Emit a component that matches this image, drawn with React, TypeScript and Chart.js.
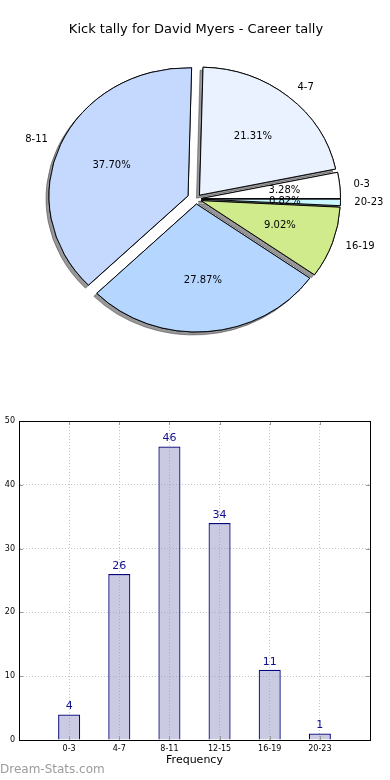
import React, { useEffect, useRef } from 'react';
import { Chart, registerables } from 'chart.js';

Chart.register(...registerables);

// ---- data ----
const categories: string[] = ['0-3', '4-7', '8-11', '12-15', '16-19', '20-23'];
const kicks: number[] = [4, 26, 46, 34, 11, 1];
const yTicks: number[] = [0, 10, 20, 30, 40, 50];
const chartTitle = 'Kick tally for David Myers - Career tally';
const xTitle = 'Frequency';

// ---- styles ----
const pieColors: string[] = ['#ffffff', '#eaf1ff', '#c5d9ff', '#b5d6ff', '#d0eb8c', '#c9f6ff'];
const explodePx: number[] = [5, 5, 8, 5, 5, 5];
const FONT = '"DejaVu Sans", sans-serif';
const SX = 1.0865; // horizontal stretch (matplotlib pie without equal aspect)

const revCats = [...categories].reverse();
const revKicks = [...kicks].reverse();
const revColors = [...pieColors].reverse();
const revExplode = [...explodePx].reverse();
const total = kicks.reduce((a, b) => a + b, 0);

const piePlugin = {
  id: 'pieDraw',
  beforeDatasetsDraw(chart: any) {
    const ctx = chart.ctx;
    const arcs = chart.getDatasetMeta(0).data;
    if (!arcs.length) return false;
    const cx = arcs[0].x;
    const cy = arcs[0].y;
    ctx.save();
    ctx.translate(cx, cy);
    ctx.scale(SX, 1);
    ctx.translate(-cx, -cy);
    for (let pass = 0; pass < 2; pass++) {
      arcs.forEach((arc: any, i: number) => {
        const mid = (arc.startAngle + arc.endAngle) / 2;
        ctx.save();
        ctx.translate(Math.cos(mid) * revExplode[i], Math.sin(mid) * revExplode[i]);
        if (pass === 0) {
          ctx.shadowColor = 'rgba(50,50,55,0.5)';
          ctx.shadowOffsetX = -3;
          ctx.shadowOffsetY = 3;
          ctx.shadowBlur = 0;
        }
        arc.draw(ctx);
        ctx.restore();
      });
    }
    ctx.restore();
    return false;
  },
  afterDraw(chart: any) {
    const ctx = chart.ctx;
    const arcs = chart.getDatasetMeta(0).data;
    ctx.save();
    ctx.fillStyle = '#000';
    ctx.font = `10px ${FONT}`;
    ctx.textBaseline = 'middle';
    arcs.forEach((arc: any, i: number) => {
      const mid = (arc.startAngle + arc.endAngle) / 2;
      const R = arc.outerRadius;
      const ex = arc.x + Math.cos(mid) * revExplode[i];
      const ey = arc.y + Math.sin(mid) * revExplode[i];
      const lx = arc.x + (ex + Math.cos(mid) * R * 1.1 - arc.x) * SX;
      const ly = ey + Math.sin(mid) * R * 1.1;
      ctx.textAlign = Math.cos(mid) >= 0 ? 'left' : 'right';
      ctx.fillText(revCats[i], lx, ly);
      const px = arc.x + (ex + Math.cos(mid) * R * 0.6 - arc.x) * SX;
      const py = ey + Math.sin(mid) * R * 0.6;
      ctx.textAlign = 'center';
      ctx.fillText(((revKicks[i] / total) * 100).toFixed(2) + '%', px, py);
    });
    ctx.restore();
  },
};

const barPlugin = {
  id: 'barExtras',
  afterDatasetsDraw(chart: any) {
    const ctx = chart.ctx;
    const { left, right, top, bottom } = chart.chartArea;
    const xs = chart.scales.x;
    const ys = chart.scales.y;
    ctx.save();
    // inward tick marks
    ctx.strokeStyle = '#9a9a9a';
    ctx.lineWidth = 1;
    ctx.beginPath();
    categories.forEach((_, i) => {
      const px = Math.round(xs.getPixelForValue(i)) + 0.5;
      ctx.moveTo(px, bottom);
      ctx.lineTo(px, bottom - 4);
      ctx.moveTo(px, top);
      ctx.lineTo(px, top + 4);
    });
    yTicks.forEach((v) => {
      const py = Math.round(ys.getPixelForValue(v)) + 0.5;
      ctx.moveTo(left, py);
      ctx.lineTo(left + 4, py);
      ctx.moveTo(right, py);
      ctx.lineTo(right - 4, py);
    });
    ctx.stroke();
    // frame
    ctx.strokeStyle = '#000';
    ctx.lineWidth = 1;
    ctx.strokeRect(Math.round(left) + 0.5, Math.round(top) + 0.5, Math.round(right - left), Math.round(bottom - top));
    // value labels
    ctx.fillStyle = '#10108c';
    ctx.font = `11px ${FONT}`;
    ctx.textAlign = 'center';
    ctx.textBaseline = 'middle';
    chart.getDatasetMeta(0).data.forEach((bar: any, i: number) => {
      ctx.fillText(String(kicks[i]), bar.x, bar.y - 8);
    });
    ctx.restore();
  },
};

export default function App() {
  const pieRef = useRef<HTMLCanvasElement>(null);
  const barRef = useRef<HTMLCanvasElement>(null);

  useEffect(() => {
    const pie = new Chart(pieRef.current as HTMLCanvasElement, {
      type: 'pie',
      data: {
        labels: revCats,
        datasets: [
          {
            data: revKicks,
            backgroundColor: revColors,
            borderColor: '#000',
            borderWidth: 0.9,
          },
        ],
      },
      options: {
        responsive: false,
        animation: false,
        events: [],
        devicePixelRatio: 1,
        rotation: 90,
        radius: 128,
        layout: { padding: { left: 2 } },
        plugins: {
          legend: { display: false },
          tooltip: { enabled: false },
          title: {
            display: true,
            text: chartTitle,
            color: '#000',
            font: { family: FONT, size: 13, weight: 'normal' },
            padding: { top: 22, bottom: 21.4 },
          },
        },
      } as any,
      plugins: [piePlugin],
    });

    const grid = { color: '#c2c2c2', lineWidth: 1, drawTicks: false, offset: false };
    const border = { color: '#000', width: 1, dash: [1, 2] };
    const bar = new Chart(barRef.current as HTMLCanvasElement, {
      type: 'bar',
      data: {
        datasets: [
          {
            data: kicks.map((v, i) => ({ x: i, y: v })),
            backgroundColor: 'rgba(150,150,200,0.5)',
            borderColor: '#06067e',
            borderWidth: 1.2,
            barPercentage: 0.44,
            categoryPercentage: 1,
          },
        ],
      },
      options: {
        responsive: false,
        animation: false,
        events: [],
        devicePixelRatio: 1,
        layout: { padding: { top: 21, right: 20, left: 0, bottom: 0 } },
        plugins: { legend: { display: false }, tooltip: { enabled: false } },
        scales: {
          x: {
            type: 'linear',
            min: -1,
            max: 6,
            offset: false,
            afterBuildTicks: (s: any) => {
              s.ticks = categories.map((_, i) => ({ value: i }));
            },
            afterFit: (s: any) => {
              s.height = 40;
            },
            ticks: {
              autoSkip: false,
              maxRotation: 0,
              padding: 4,
              color: '#000',
              font: { family: FONT, size: 8 },
              callback: (v: any) => categories[v] ?? '',
            },
            grid,
            border,
            title: {
              display: true,
              text: xTitle,
              color: '#000',
              font: { family: FONT, size: 11 },
              padding: { top: 0, bottom: 13 },
            },
          },
          y: {
            type: 'linear',
            min: 0,
            max: 50,
            afterBuildTicks: (s: any) => {
              s.ticks = yTicks.map((v) => ({ value: v }));
            },
            afterFit: (s: any) => {
              s.width = 19;
            },
            ticks: {
              padding: 4,
              color: '#000',
              font: { family: FONT, size: 8 },
            },
            grid,
            border,
          },
        },
      } as any,
      plugins: [barPlugin],
    });

    return () => {
      pie.destroy();
      bar.destroy();
    };
  }, []);

  return (
    <div style={{ position: 'absolute', top: 0, left: 0, width: 390, height: 780, background: '#fff' }}>
      <canvas ref={pieRef} width={390} height={339} style={{ position: 'absolute', top: 0, left: 0, display: 'block' }} />
      <canvas ref={barRef} width={390} height={380} style={{ position: 'absolute', top: 400, left: 0, display: 'block' }} />
      <div
        style={{
          position: 'absolute',
          left: 0,
          top: 762,
          fontFamily: FONT,
          fontSize: 12,
          lineHeight: '14px',
          color: '#9c9c9c',
          whiteSpace: 'nowrap',
        }}
      >
        Dream-Stats.com
      </div>
    </div>
  );
}
